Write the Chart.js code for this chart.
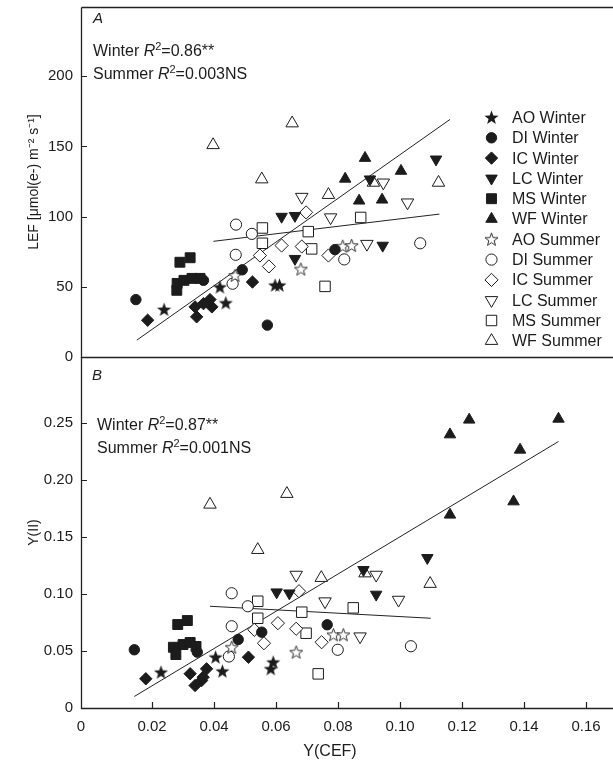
<!DOCTYPE html>
<html>
<head>
<meta charset="utf-8">
<script src="https://cdn.jsdelivr.net/npm/chart.js@4.4.0/dist/chart.umd.min.js"></script>
<style>
    html, body { margin: 0; padding: 0; background: #fff; overflow: hidden; }
    #wrap { position: relative; width: 613px; height: 767px; overflow: hidden; }
    canvas { position: absolute; left: 0; }
    #topChart { top: 0; }
    #botChart { top: 357px; }
</style>
</head>
<body>
<div id="wrap">
    <canvas id="topChart" width="616" height="372"></canvas>
    <canvas id="botChart" width="616" height="410"></canvas>
</div>
<script>
// series names (legend order)
const seriesNames = ['AO Winter', 'DI Winter', 'IC Winter', 'LC Winter', 'MS Winter', 'WF Winter',
    'AO Summer', 'DI Summer', 'IC Summer', 'LC Summer', 'MS Summer', 'WF Summer'];

// panel A: [Y(CEF), LEF]
const lefAOWinter = [[0.0239, 33.8], [0.0419, 49.8], [0.0438, 38.5], [0.0597, 51.1], [0.0611, 51.1]];
const lefDIWinter = [[0.0148, 40.9], [0.0366, 54.6], [0.0491, 62.1], [0.0572, 22.7], [0.0790, 76.5]];
const lefICWinter = [[0.0186, 26.2], [0.0339, 35.7], [0.0366, 38.0], [0.0387, 40.9], [0.0393, 35.7], [0.0344, 28.6], [0.0524, 53.4]];
const lefLCWinter = [[0.0618, 100.0], [0.0661, 100.6], [0.0661, 70.0], [0.0903, 126.6], [0.0944, 79.4], [0.1116, 140.8]];
const lefMSWinter = [[0.0290, 67.5], [0.0323, 70.7], [0.0280, 47.5], [0.0281, 52.4], [0.0303, 54.6], [0.0329, 56.0], [0.0355, 56.0]];
const lefWFWinter = [[0.0823, 126.9], [0.0887, 141.7], [0.1003, 132.5], [0.0868, 111.3], [0.0942, 112.0]];
const lefAOSummer = [[0.0468, 58.1], [0.0680, 62.6], [0.0815, 78.9], [0.0844, 79.4]];
const lefDISummer = [[0.0471, 94.3], [0.0522, 87.7], [0.0470, 72.8], [0.0460, 52.2], [0.0820, 69.5], [0.1065, 81.0]];
const lefICSummer = [[0.0697, 103.0], [0.0618, 79.4], [0.0683, 78.7], [0.0548, 72.3], [0.0769, 72.3], [0.0577, 64.5]];
const lefLCSummer = [[0.0683, 114.0], [0.0776, 99.4], [0.0946, 124.2], [0.1024, 110.0], [0.0893, 80.5]];
const lefMSSummer = [[0.0556, 91.9], [0.0704, 89.3], [0.0556, 81.0], [0.0715, 77.0], [0.0758, 50.3], [0.0873, 99.4]];
const lefWFSummer = [[0.0397, 151.0], [0.0652, 166.5], [0.0554, 126.6], [0.0769, 115.5], [0.0914, 124.2], [0.1124, 124.2]];
const lefWinterFit = [[0.0151, 12.0], [0.1161, 169.2]];
const lefSummerFit = [[0.0398, 82.4], [0.1127, 101.8]];

// panel B: [Y(CEF), Y(II)]
const yiiAOWinter = [[0.0229, 0.0313], [0.0405, 0.0445], [0.0427, 0.0322], [0.0591, 0.0401], [0.0583, 0.0343]];
const yiiDIWinter = [[0.0143, 0.0510], [0.0346, 0.0489], [0.0478, 0.0600], [0.0554, 0.0664], [0.0765, 0.0729]];
const yiiICWinter = [[0.0180, 0.0256], [0.0323, 0.0300], [0.0339, 0.0197], [0.0360, 0.0241], [0.0376, 0.0343], [0.0365, 0.0270], [0.0511, 0.0445]];
const yiiLCWinter = [[0.0602, 0.1014], [0.0643, 0.1005], [0.0882, 0.1210], [0.0923, 0.0994], [0.1088, 0.1315]];
const yiiMSWinter = [[0.0283, 0.0731], [0.0314, 0.0766], [0.0269, 0.0532], [0.0277, 0.0468], [0.0300, 0.0556], [0.0323, 0.0574], [0.0342, 0.0539]];
const yiiWFWinter = [[0.1223, 0.2524], [0.1161, 0.2395], [0.1511, 0.2532], [0.1387, 0.2261], [0.1366, 0.1808], [0.1161, 0.1692]];
const yiiAOSummer = [[0.0457, 0.0532], [0.0665, 0.0489], [0.0785, 0.0641], [0.0817, 0.0641]];
const yiiDISummer = [[0.0457, 0.1005], [0.0509, 0.0891], [0.0457, 0.0716], [0.0448, 0.0451], [0.0799, 0.0510], [0.1035, 0.0541]];
const yiiICSummer = [[0.0674, 0.1023], [0.0606, 0.0743], [0.0665, 0.0694], [0.0530, 0.0685], [0.0747, 0.0576], [0.0561, 0.0567]];
const yiiLCSummer = [[0.0665, 0.1166], [0.0758, 0.0933], [0.0923, 0.1166], [0.0995, 0.0947], [0.0871, 0.0626]];
const yiiMSSummer = [[0.0541, 0.0935], [0.0683, 0.0839], [0.0541, 0.0786], [0.0697, 0.0655], [0.0736, 0.0299], [0.0849, 0.0877]];
const yiiWFSummer = [[0.0387, 0.1782], [0.0635, 0.1876], [0.0541, 0.1385], [0.0746, 0.1140], [0.0887, 0.1180], [0.1097, 0.1088]];
const yiiWinterFit = [[0.0143, 0.0101], [0.1511, 0.2334]];
const yiiSummerFit = [[0.0387, 0.0891], [0.1099, 0.0786]];

// tick labels
const lefTicks = [0, 50, 100, 150, 200];
const yiiTicks = [0, 0.05, 0.10, 0.15, 0.20, 0.25];
const cefTicks = [0.02, 0.04, 0.06, 0.08, 0.10, 0.12, 0.14, 0.16];

const lefSeries = [lefAOWinter, lefDIWinter, lefICWinter, lefLCWinter, lefMSWinter, lefWFWinter,
    lefAOSummer, lefDISummer, lefICSummer, lefLCSummer, lefMSSummer, lefWFSummer];
const yiiSeries = [yiiAOWinter, yiiDIWinter, yiiICWinter, yiiLCWinter, yiiMSWinter, yiiWFWinter,
    yiiAOSummer, yiiDISummer, yiiICSummer, yiiLCSummer, yiiMSSummer, yiiWFSummer];

const fontFamily = "'Liberation Sans', Arial, sans-serif";
const ink = '#1c1c1c';
Chart.defaults.font.family = fontFamily;
Chart.defaults.color = ink;

const xMin = -0.0029, xMax = 0.169;

// star marker as a small canvas
function makeStar(filled) {
    const c = document.createElement('canvas');
    c.width = 17; c.height = 17;
    const g = c.getContext('2d');
    const R = filled ? 7.4 : 6.8, r = filled ? 3.1 : 2.8;
    g.beginPath();
    for (let i = 0; i < 10; i++) {
        const a = -Math.PI / 2 + i * Math.PI / 5;
        const d = i % 2 === 0 ? R : r;
        g.lineTo(8.5 + d * Math.cos(a), 9 + d * Math.sin(a));
    }
    g.closePath();
    if (filled) {
        g.fillStyle = ink; g.fill();
    } else {
        g.fillStyle = '#fff'; g.fill();
        g.lineWidth = 0.9; g.strokeStyle = ink; g.stroke();
    }
    return c;
}

const winterShapes = [
    { style: makeStar(true), radius: 7 },
    { style: 'circle', radius: 5.2 },
    { style: 'rectRot', radius: 6.2 },
    { style: 'triangle', radius: 6.6, rotation: 180 },
    { style: 'rect', radius: 7.0 },
    { style: 'triangle', radius: 6.6 }
];
const summerShapes = [
    { style: makeStar(false), radius: 7 },
    { style: 'circle', radius: 5.6 },
    { style: 'rectRot', radius: 6.6 },
    { style: 'triangle', radius: 7.2, rotation: 180 },
    { style: 'rect', radius: 7.4 },
    { style: 'triangle', radius: 7.2 }
];

function shapeFor(i) {
    const winter = i < 6;
    const sh = winter ? winterShapes[i] : summerShapes[i - 6];
    return Object.assign({ fill: winter ? ink : '#fff' }, sh);
}

function buildDatasets(seriesList, winterFit, summerFit) {
    const sets = seriesNames.map(function (name, i) {
        const sh = shapeFor(i);
        return {
            label: name,
            data: seriesList[i].map(p => ({ x: p[0], y: p[1] })),
            pointStyle: sh.style,
            pointRadius: sh.radius,
            pointHoverRadius: sh.radius,
            pointRotation: sh.rotation || 0,
            pointBackgroundColor: sh.fill,
            pointBorderColor: ink,
            pointBorderWidth: 1,
            showLine: false,
            order: 0
        };
    });
    [winterFit, summerFit].forEach(function (fit) {
        sets.push({
            label: '',
            data: fit.map(p => ({ x: p[0], y: p[1] })),
            showLine: true,
            borderColor: '#222',
            borderWidth: 1,
            pointRadius: 0,
            order: 1
        });
    });
    return sets;
}

// mixed normal / italic / superscript text
function drawRich(ctx, x, y, parts, size) {
    parts.forEach(function (p) {
        const fs = p.sup ? Math.round(size * 0.68) : size;
        ctx.font = (p.italic ? 'italic ' : '') + fs + 'px ' + fontFamily;
        ctx.fillText(p.t, x, p.sup ? y - size * 0.36 : y);
        x += ctx.measureText(p.t).width;
    });
}

// frame, inward ticks and texts
const panelDecor = {
    id: 'panelDecor',
    afterDraw(chart, args, opts) {
        const { ctx, chartArea: a, scales } = chart;
        ctx.save();
        ctx.strokeStyle = '#222';
        ctx.lineWidth = 1.3;
        ctx.beginPath();
        ctx.moveTo(a.left + 0.5, a.top + (opts.topEdge ? 0.5 : 0));
        ctx.lineTo(a.left + 0.5, a.bottom + 0.5);
        ctx.lineTo(a.right + 0.5, a.bottom + 0.5);
        if (opts.topEdge) {
            ctx.moveTo(a.left + 0.5, a.top + 0.5);
            ctx.lineTo(a.right + 0.5, a.top + 0.5);
        }
        ctx.stroke();

        ctx.lineWidth = 1.2;
        ctx.beginPath();
        opts.yTicks.forEach(function (v) {
            if (v === 0) return;
            const py = Math.round(scales.y.getPixelForValue(v)) + 0.5;
            ctx.moveTo(a.left, py);
            ctx.lineTo(a.left + 6, py);
        });
        (opts.xTicks || []).forEach(function (v) {
            const px = Math.round(scales.x.getPixelForValue(v)) + 0.5;
            ctx.moveTo(px, a.bottom);
            ctx.lineTo(px, a.bottom - 6);
        });
        ctx.stroke();

        ctx.fillStyle = ink;
        ctx.textBaseline = 'alphabetic';
        ctx.textAlign = 'left';
        opts.texts.forEach(function (t) {
            drawRich(ctx, t.x, t.y, t.parts, t.size);
        });

        if (opts.legend) {
            const drawPoint = Chart.helpers.drawPoint;
            seriesNames.forEach(function (name, i) {
                const sh = shapeFor(i);
                const ly = 117.5 + i * 20.3;
                ctx.fillStyle = sh.fill;
                ctx.strokeStyle = ink;
                ctx.lineWidth = 1;
                drawPoint(ctx, { pointStyle: sh.style, rotation: sh.rotation || 0, radius: sh.radius, borderWidth: 1 }, 491.5, ly);
                ctx.fillStyle = ink;
                ctx.font = '16px ' + fontFamily;
                ctx.textBaseline = 'middle';
                ctx.fillText(name, 512, ly + 1);
            });
        }
        if (opts.xTitle) {
            ctx.fillStyle = ink;
            ctx.font = '16px ' + fontFamily;
            ctx.textAlign = 'center';
            ctx.textBaseline = 'middle';
            ctx.fillText(opts.xTitle, 330, 395);
        }
        ctx.restore();
    }
};

function noPad(s) {
    s.paddingTop = 0; s.paddingBottom = 0; s.paddingLeft = 0; s.paddingRight = 0;
}

// panel A
new Chart(document.getElementById('topChart'), {
    type: 'scatter',
    data: { datasets: buildDatasets(lefSeries, lefWinterFit, lefSummerFit) },
    options: {
        responsive: false,
        animation: false,
        events: [],
        layout: { autoPadding: false, padding: { top: 7, right: 2, bottom: 0, left: 0 } },
        plugins: {
            legend: { display: false },
            tooltip: { enabled: false },
            panelDecor: {
                topEdge: true,
                yTicks: lefTicks,
                texts: [
                    { x: 93, y: 23, size: 15, parts: [{ t: 'A', italic: true }] },
                    { x: 93, y: 56, size: 16, parts: [{ t: 'Winter ' }, { t: 'R', italic: true }, { t: '2', sup: true }, { t: '=0.86**' }] },
                    { x: 93, y: 79, size: 16, parts: [{ t: 'Summer ' }, { t: 'R', italic: true }, { t: '2', sup: true }, { t: '=0.003NS' }] }
                ],
                legend: true
            }
        },
        scales: {
            x: {
                type: 'linear', min: xMin, max: xMax,
                ticks: { display: false },
                grid: { display: false, drawTicks: false },
                border: { display: false },
                afterFit: function (s) { s.height = 15; noPad(s); }
            },
            y: {
                type: 'linear', min: 0, max: 249.3,
                afterBuildTicks: function (s) { s.ticks = lefTicks.map(v => ({ value: v })); },
                ticks: { padding: 8, font: { size: 15 }, callback: v => String(v) },
                grid: { display: false, drawTicks: false },
                border: { display: false },
                title: { display: true, text: 'LEF [μmol(e-) m⁻² s⁻¹]', font: { size: 14 }, padding: { top: 26, bottom: 0 } },
                afterFit: function (s) { s.width = 81; noPad(s); }
            }
        }
    },
    plugins: [panelDecor]
});

// panel B
new Chart(document.getElementById('botChart'), {
    type: 'scatter',
    data: { datasets: buildDatasets(yiiSeries, yiiWinterFit, yiiSummerFit) },
    options: {
        responsive: false,
        animation: false,
        events: [],
        layout: { autoPadding: false, padding: { top: 0, right: 2, bottom: 0, left: 0 } },
        plugins: {
            legend: { display: false },
            tooltip: { enabled: false },
            panelDecor: {
                topEdge: false,
                yTicks: yiiTicks,
                xTicks: cefTicks,
                texts: [
                    { x: 92, y: 23, size: 15, parts: [{ t: 'B', italic: true }] },
                    { x: 97, y: 73, size: 16, parts: [{ t: 'Winter ' }, { t: 'R', italic: true }, { t: '2', sup: true }, { t: '=0.87**' }] },
                    { x: 97, y: 96, size: 16, parts: [{ t: 'Summer ' }, { t: 'R', italic: true }, { t: '2', sup: true }, { t: '=0.001NS' }] }
                ],
                xTitle: 'Y(CEF)'
            }
        },
        scales: {
            x: {
                type: 'linear', min: xMin, max: xMax,
                afterBuildTicks: function (s) { s.ticks = [{ value: xMin }].concat(cefTicks.map(v => ({ value: v }))); },
                ticks: { padding: 10, font: { size: 15 }, maxRotation: 0, autoSkip: false,
                    callback: v => (v < 0.001 ? '0' : v.toFixed(2)) },
                grid: { display: false, drawTicks: false },
                border: { display: false },
                afterFit: function (s) { s.height = 59; noPad(s); }
            },
            y: {
                type: 'linear', min: 0, max: 0.3074,
                afterBuildTicks: function (s) { s.ticks = yiiTicks.map(v => ({ value: v })); },
                ticks: { padding: 8, font: { size: 15 }, callback: v => (v === 0 ? '0' : v.toFixed(2)) },
                grid: { display: false, drawTicks: false },
                border: { display: false },
                title: { display: true, text: 'Y(II)', font: { size: 14 }, padding: { top: 26, bottom: 0 } },
                afterFit: function (s) { s.width = 81; noPad(s); }
            }
        }
    },
    plugins: [panelDecor]
});
</script>
</body>
</html>
